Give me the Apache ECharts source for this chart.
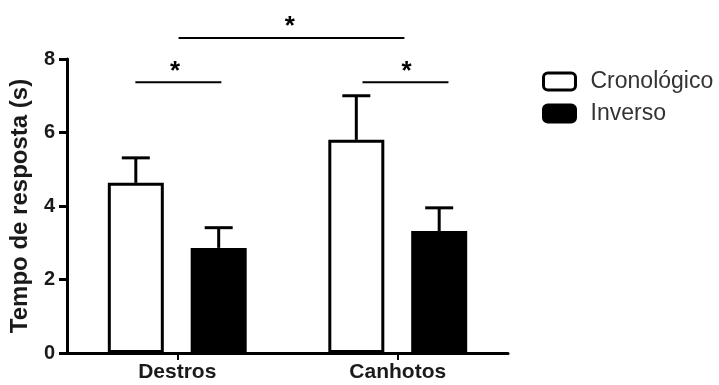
<!DOCTYPE html>
<html>
<head>
<meta charset="utf-8">
<script src="https://cdn.jsdelivr.net/npm/echarts@6/dist/echarts.min.js"></script>
<style>html,body{margin:0;padding:0;background:#fff}#c{width:719px;height:385px}</style>
</head>
<body>
<div id="c"></div>
<script>
var categories = ['Destros', 'Canhotos'];
var seriesNames = ['Cronológico', 'Inverso'];
var cronologico = [4.63, 5.80];
var inverso = [2.86, 3.32];
var cronologicoErr = [0.68, 1.20];
var inversoErr = [0.55, 0.63];
var yTicks = [0, 2, 4, 6, 8];
// significance lines: [xStart, xEnd, y] in category units (0..2) and seconds
var sigLines = [[0.31, 0.70, 7.37], [0.506, 1.53, 8.57], [1.34, 1.73, 7.37]];
// asterisks: [x, y]
var sigStars = [[0.49, 7.66], [1.01, 8.88], [1.54, 7.66]];

var BAR_W = 56, GAP = 0.48, BORDER = 3;
var FONT = '"Liberation Sans", Arial, sans-serif';

var chart = echarts.init(document.getElementById('c'), null, {renderer: 'canvas'});

function errSeries(vals, errs, sign) {
  return {
    type: 'custom',
    xAxisIndex: 0, yAxisIndex: 0,
    clip: false, silent: true, z: 5,
    data: vals.map(function (v, i) { return [i, v, v + errs[i]]; }),
    renderItem: function (params, api) {
      var c = api.coord([api.value(0), api.value(1)]);
      var t = api.coord([api.value(0), api.value(2)]);
      var off = sign * BAR_W * (1 + GAP) / 2;
      var x = c[0] + off;
      var cap = 14;
      return {
        type: 'group',
        children: [
          {type: 'line', shape: {x1: x, y1: c[1], x2: x, y2: t[1]}, style: {stroke: '#000', lineWidth: 3}},
          {type: 'line', shape: {x1: x - cap, y1: t[1], x2: x + cap, y2: t[1]}, style: {stroke: '#000', lineWidth: 3}}
        ]
      };
    }
  };
}

var option = {
  animation: false,
  backgroundColor: '#fff',
  grid: {left: 65, right: 211, top: 59, bottom: 32, containLabel: false},
  legend: {
    orient: 'vertical',
    left: 537, top: 65,
    itemWidth: 32, itemHeight: 17, itemGap: 9,
    textStyle: {fontFamily: FONT, fontSize: 23, color: '#333', padding: [0, 0, 0, 10]},
    data: [
      {name: seriesNames[0], icon: 'roundRect', itemStyle: {color: '#fff', borderColor: '#000', borderWidth: 3}},
      {name: seriesNames[1], icon: 'roundRect', itemStyle: {color: '#000', borderColor: '#000', borderWidth: 3}}
    ]
  },
  xAxis: [{
    type: 'category',
    data: categories,
    axisLine: {lineStyle: {color: '#000', width: 3}},
    axisTick: {show: true, alignWithLabel: true, length: 7, lineStyle: {color: '#000', width: 2}},
    axisLabel: {fontFamily: FONT, fontSize: 21, fontWeight: 'bold', color: '#1a1a1a', margin: 9}
  }, {
    type: 'value', min: 0, max: 2, show: false, position: 'bottom'
  }],
  yAxis: {
    type: 'value', min: 0, max: 8, interval: 2,
    name: 'Tempo de resposta (s)',
    nameLocation: 'middle', nameGap: 35, nameRotate: 90,
    nameTextStyle: {fontFamily: FONT, fontSize: 24, fontWeight: 'bold', color: '#1a1a1a'},
    axisLine: {show: true, lineStyle: {color: '#000', width: 3}},
    axisTick: {show: true, length: 8, lineStyle: {color: '#000', width: 3}},
    axisLabel: {fontFamily: FONT, fontSize: 20, fontWeight: 'bold', color: '#1a1a1a', margin: 12,
      formatter: function (v) { return yTicks.indexOf(v) >= 0 ? String(v) : ''; }},
    splitLine: {show: false}
  },
  series: [
    {
      name: seriesNames[0], type: 'bar', data: cronologico,
      barWidth: BAR_W, barGap: (GAP * 100) + '%',
      itemStyle: {color: '#fff', borderColor: '#000', borderWidth: BORDER}
    },
    {
      name: seriesNames[1], type: 'bar', data: inverso,
      barWidth: BAR_W, barGap: (GAP * 100) + '%',
      itemStyle: {color: '#000', borderColor: '#000', borderWidth: BORDER}
    },
    errSeries(cronologico, cronologicoErr, -1),
    errSeries(inverso, inversoErr, 1),
    {
      type: 'custom', xAxisIndex: 1, yAxisIndex: 0, clip: false, silent: true,
      data: sigLines,
      renderItem: function (params, api) {
        var a = api.coord([api.value(0), api.value(2)]);
        var b = api.coord([api.value(1), api.value(2)]);
        return {type: 'line', shape: {x1: a[0], y1: a[1], x2: b[0], y2: b[1]}, style: {stroke: '#000', lineWidth: 2}};
      }
    },
    {
      type: 'custom', xAxisIndex: 1, yAxisIndex: 0, clip: false, silent: true,
      data: sigStars,
      renderItem: function (params, api) {
        var p = api.coord([api.value(0), api.value(1)]);
        return {type: 'text', x: p[0], y: p[1], style: {text: '*', fontFamily: FONT, fontSize: 26, fontWeight: 'bold', fill: '#000', align: 'center', verticalAlign: 'middle'}};
      }
    }
  ]
};
chart.setOption(option);
</script>
</body>
</html>
